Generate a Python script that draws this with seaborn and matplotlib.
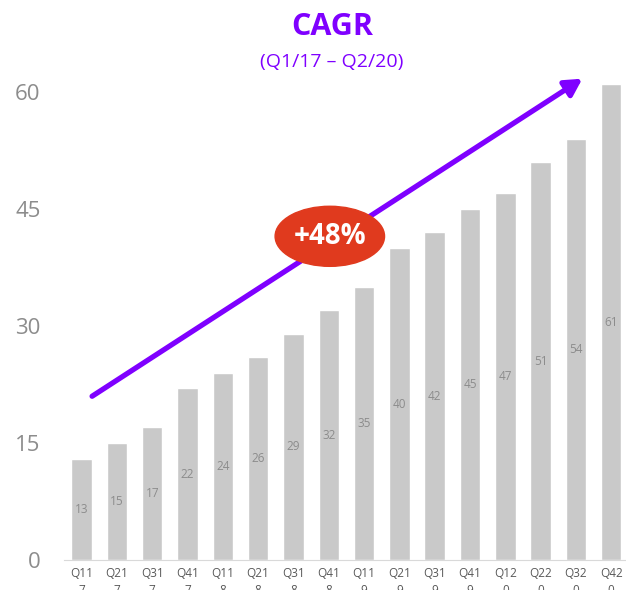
import pandas as pd
import matplotlib
matplotlib.use("Agg")
import matplotlib.pyplot as plt
import seaborn as sns
from matplotlib.patches import Ellipse

# quarterly values
quarters = ['Q11\n7', 'Q21\n7', 'Q31\n7', 'Q41\n7',
            'Q11\n8', 'Q21\n8', 'Q31\n8', 'Q41\n8',
            'Q11\n9', 'Q21\n9', 'Q31\n9', 'Q41\n9',
            'Q12\n0', 'Q22\n0', 'Q32\n0', 'Q42\n0']
values = [13, 15, 17, 22, 24, 26, 29, 32, 35, 40, 42, 45, 47, 51, 54, 61]
yticks = [0, 15, 30, 45, 60]

purple = '#7F00FF'
bar_grey = '#C9C9C9'

sns.set_style("white")
plt.rcParams['font.family'] = ['Open Sans', 'DejaVu Sans']

df = pd.DataFrame({'quarter': quarters, 'value': values})

fig = plt.figure(figsize=(6.26, 5.9), dpi=100)
ax = fig.add_axes([64 / 626, 30 / 590, 562 / 626, 66 * 7.8 / 590])

sns.barplot(data=df, x='quarter', y='value', color=bar_grey, width=0.58,
            saturation=1, ax=ax)

for i, v in enumerate(values):
    ax.text(i, v / 2, str(v), ha='center', va='center', fontsize=8.5, color='#8C8C8C')

ax.set_xlim(-0.5, 15.42)
ax.set_ylim(0, 66)
ax.set_yticks(yticks)
ax.set_yticklabels([str(t) for t in yticks], fontsize=16, color='#8C8C8C')
ax.tick_params(axis='y', length=0, pad=17)
# the second line of each quarter label runs off the bottom, as in the original
ax.tick_params(axis='x', length=0, labelsize=8.5, labelcolor='#595959', pad=5)
for lab in ax.get_xticklabels():
    lab.set_linespacing(1.45)
ax.set_xlabel('')
ax.set_ylabel('')
for s in ['top', 'right', 'left']:
    ax.spines[s].set_visible(False)
ax.spines['bottom'].set_color('#D9D9D9')

# growth arrow
ax.annotate('', xy=(14.25, 61.9), xytext=(0.23, 20.8),
            arrowprops=dict(arrowstyle='-|>,head_length=1.0,head_width=0.55',
                            color=purple, lw=3.8),
            annotation_clip=False)

ell = Ellipse((7.03, 41.5), 3.1, 7.7, color='#E03A1E', zorder=5)
ax.add_patch(ell)
ax.text(7.03, 41.5, '+48%', ha='center', va='center', fontsize=20,
        fontweight='bold', color='white', zorder=6)

fig.text(0.53, 0.955, 'CAGR', ha='center', va='center', fontsize=22,
         fontweight='bold', color=purple)
fig.text(0.53, 0.895, '(Q1/17 – Q2/20)', ha='center', va='center', fontsize=14,
         color=purple)

fig.savefig('out.png', dpi=100)
